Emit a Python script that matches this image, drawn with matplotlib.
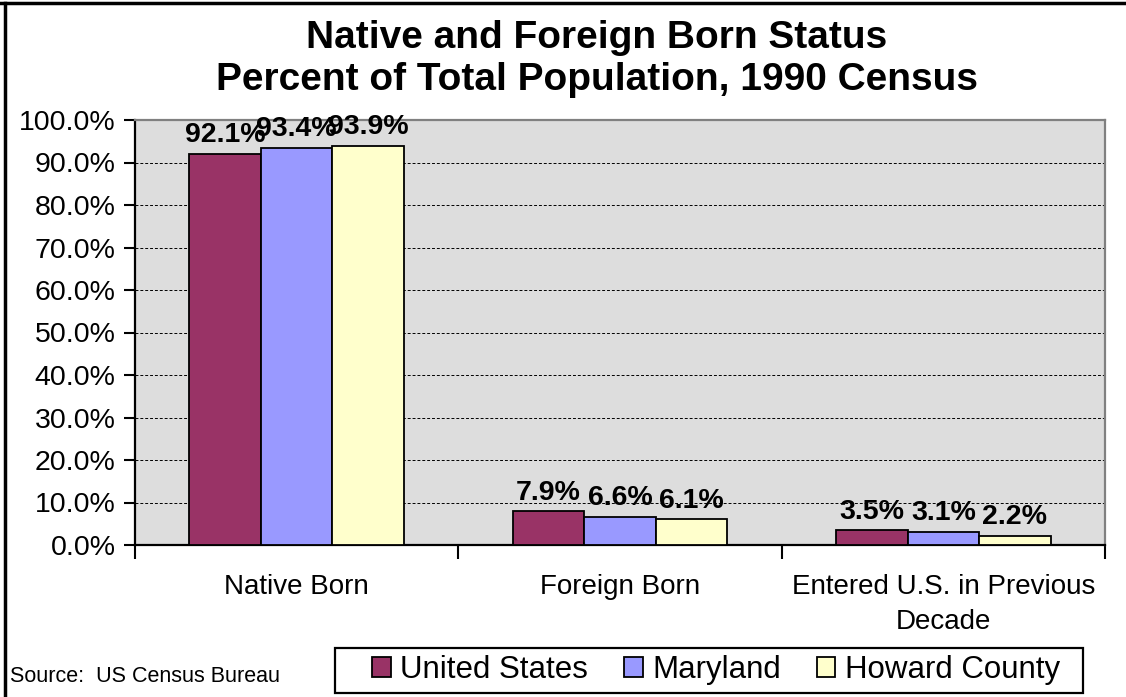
import numpy as np
import matplotlib
matplotlib.use("Agg")
import matplotlib.pyplot as plt
from matplotlib.lines import Line2D
from matplotlib.patches import Rectangle
from matplotlib.ticker import FixedLocator, PercentFormatter

plt.rcParams['font.family'] = ['Liberation Sans', 'DejaVu Sans']

# Data
categories = ['Native Born', 'Foreign Born', 'Entered U.S. in Previous\nDecade']
series_names = ['United States', 'Maryland', 'Howard County']
united_states = [92.1, 7.9, 3.5]
maryland = [93.4, 6.6, 3.1]
howard_county = [93.9, 6.1, 2.2]
colors = ['#993366', '#9999FF', '#FFFFCC']

W, H = 1126, 697
fig = plt.figure(figsize=(W / 100, H / 100), dpi=100)
ax = fig.add_axes([135 / W, 1 - 545 / H, (1105 - 135) / W, (545 - 120) / H])
ax.set_facecolor('#DDDDDD')

bar_w = 0.221
centers = np.arange(len(categories)) + 0.5
for i, (vals, name, col) in enumerate(zip([united_states, maryland, howard_county],
                                           series_names, colors)):
    xs = centers + (i - 1) * bar_w
    bars = ax.bar(xs, vals, width=bar_w, color=col, edgecolor='black',
                  linewidth=1.3, label=name, zorder=3)
    for b, v in zip(bars, vals):
        ax.annotate(f'{v:.1f}%', (b.get_x() + b.get_width() / 2, v),
                    xytext=(0, 4), textcoords='offset points',
                    ha='center', va='bottom', fontsize=20.5, fontweight='bold',
                    zorder=4)

ax.set_xlim(0, 3)
ax.set_ylim(0, 100)

# y axis
ax.set_yticks(np.arange(0, 101, 10))
ax.yaxis.set_major_formatter(PercentFormatter(decimals=1))
ax.tick_params(axis='y', direction='out', length=8, width=1.5, pad=6,
               labelsize=20.5)
for y in range(10, 100, 10):
    ax.axhline(y, color='black', linewidth=0.7, linestyle=(0, (3, 2)), zorder=1)

# x axis: ticks at group edges, labels at group centers
ax.xaxis.set_major_locator(FixedLocator([0, 1, 2, 3]))
ax.xaxis.set_minor_locator(FixedLocator(centers))
ax.set_xticklabels([])
ax.set_xticklabels(categories, minor=True)
ax.tick_params(axis='x', which='major', direction='out', length=10, width=1.5)
ax.tick_params(axis='x', which='minor', length=0, pad=21, labelsize=20)
for lbl in ax.get_xticklabels(minor=True):
    lbl.set_linespacing(1.45)
    lbl.set_verticalalignment('top')

for side in ['left', 'bottom']:
    ax.spines[side].set_color('black')
    ax.spines[side].set_linewidth(1.6)
for side in ['top', 'right']:
    ax.spines[side].set_color('#808080')
    ax.spines[side].set_linewidth(1.6)

fig.text(597 / W, 1 - 20 / H, 'Native and Foreign Born Status\nPercent of Total Population, 1990 Census',
         ha='center', va='top', fontsize=28, fontweight='bold', linespacing=1.2)

fig.text(10 / W, 1 - 677 / H, 'Source:  US Census Bureau', ha='left', va='center',
         fontsize=15.5)

# legend without its own frame, box drawn separately to get Excel-like padding
leg = fig.legend(loc='center', bbox_to_anchor=(716 / W, 1 - 670 / H), ncol=3,
                 fontsize=22.5, frameon=False,
                 handlelength=0.6, handleheight=0.6, handletextpad=0.3,
                 columnspacing=1.15, borderpad=0, borderaxespad=0)
fig.add_artist(Rectangle((335 / W, 1 - 693 / H), (1083 - 335) / W, 45 / H,
                         transform=fig.transFigure, facecolor='none',
                         edgecolor='black', linewidth=1.6))

# chart border on top and left
fig.add_artist(Line2D([0, 1], [1 - 3 / H, 1 - 3 / H], color='black', linewidth=2.5,
                      transform=fig.transFigure))
fig.add_artist(Line2D([5 / W, 5 / W], [0, 1 - 3 / H], color='black', linewidth=2.5,
                      transform=fig.transFigure))

fig.savefig('out.png', dpi=100)
